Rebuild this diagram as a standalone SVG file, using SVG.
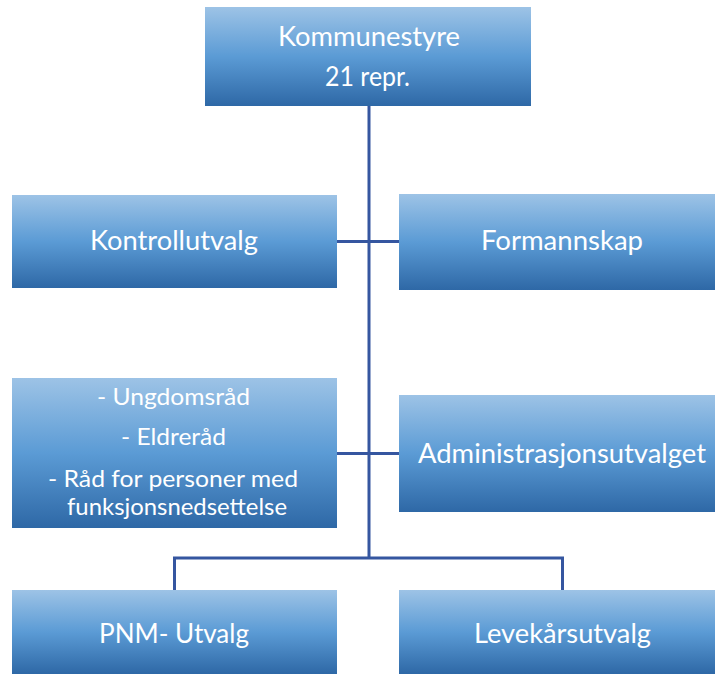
<svg xmlns="http://www.w3.org/2000/svg" width="715" height="674" viewBox="0 0 715 674">
<defs>
<linearGradient id="g" x1="0" y1="0" x2="0" y2="1">
<stop offset="0" stop-color="#9DC3E6"/>
<stop offset="0.5" stop-color="#5B9BD5"/>
<stop offset="1" stop-color="#2E68A6"/>
</linearGradient>
<style>
.box{fill:url(#g);}
.t{font-family:Lato,"Open Sans","Liberation Sans",sans-serif;font-size:26px;fill:#fff;text-anchor:middle;}
.s{font-size:24px;}
.c{stroke:#3556A0;stroke-width:3;fill:none;}
</style>
</defs>
<g id="connectors">
<path class="c" d="M369 105 V558"/>
<path class="c" d="M337 241.5 H399"/>
<path class="c" d="M337 453.5 H399"/>
<path class="c" d="M174.5 590 V558 H562.5 V590"/>
</g>
<g id="kommunestyre"><rect class="box" x="205" y="7" width="326" height="99"/><text class="t" x="369" y="46" textLength="182" lengthAdjust="spacingAndGlyphs">Kommunestyre</text><text class="t" x="367.5" y="86" textLength="85" lengthAdjust="spacingAndGlyphs">21 repr.</text></g>
<g id="kontrollutvalg"><rect class="box" x="12" y="195" width="325" height="93"/><text class="t" x="174" y="250" textLength="168" lengthAdjust="spacingAndGlyphs">Kontrollutvalg</text></g>
<g id="formannskap"><rect class="box" x="399" y="194" width="316" height="96"/><text class="t" x="562" y="250" textLength="162" lengthAdjust="spacingAndGlyphs">Formannskap</text></g>
<g id="rad"><rect class="box" x="12" y="378" width="325" height="150"/><text class="t s" x="173.5" y="405" textLength="153" lengthAdjust="spacingAndGlyphs">- Ungdomsråd</text><text class="t s" x="173.5" y="445" textLength="105" lengthAdjust="spacingAndGlyphs">- Eldreråd</text><text class="t s" x="173" y="487" textLength="250" lengthAdjust="spacingAndGlyphs">- Råd for personer med</text><text class="t s" x="177" y="515" textLength="220" lengthAdjust="spacingAndGlyphs">funksjonsnedsettelse</text></g>
<g id="administrasjonsutvalget"><rect class="box" x="399" y="395" width="316" height="117"/><text class="t" x="562" y="463" textLength="288" lengthAdjust="spacingAndGlyphs">Administrasjonsutvalget</text></g>
<g id="pnm"><rect class="box" x="12" y="590" width="325" height="84"/><text class="t" x="174" y="643" textLength="150" lengthAdjust="spacingAndGlyphs">PNM- Utvalg</text></g>
<g id="levekar"><rect class="box" x="399" y="590" width="316" height="84"/><text class="t" x="562.5" y="643" textLength="177" lengthAdjust="spacingAndGlyphs">Levekårsutvalg</text></g>
</svg>
